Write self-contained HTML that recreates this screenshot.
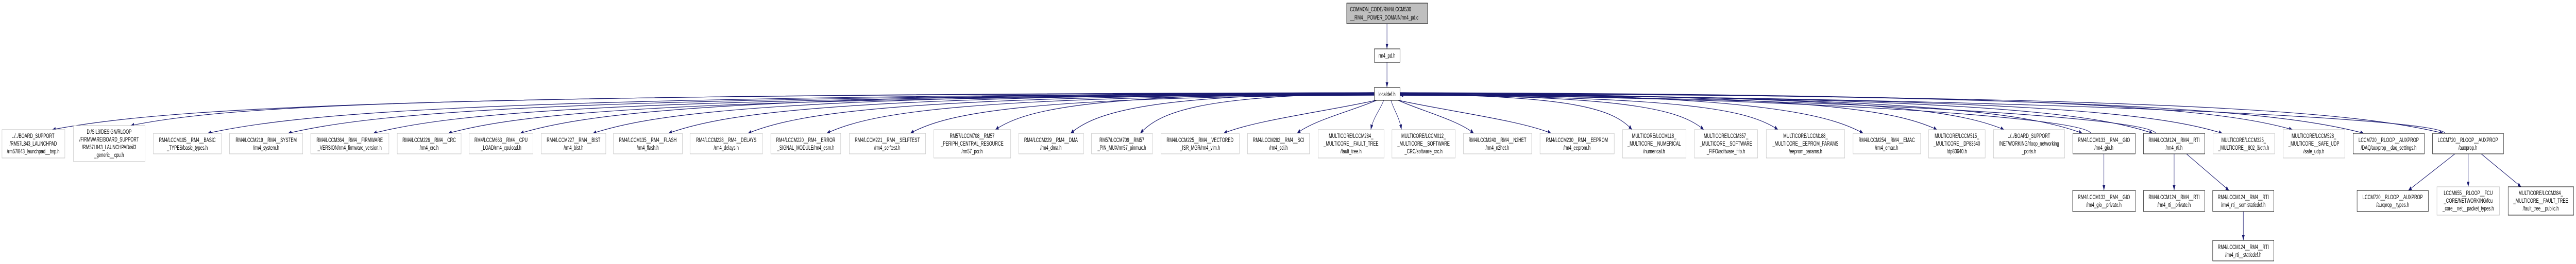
<!DOCTYPE html>
<html><head><meta charset="utf-8">
<style>
html,body{margin:0;padding:0;background:#fff;width:100%;height:100%;overflow:hidden;}
svg{display:block;width:100vw;height:100vh;}
text{font-family:"Liberation Sans",Arial,sans-serif;font-size:12px;fill:#000;}
.g{fill:#fff;stroke:#bfbfbf;stroke-width:1;}
.b{fill:#fff;stroke:#000;stroke-width:1;}
.e{fill:none;stroke:#191970;stroke-width:1.2;}
</style></head>
<body>
<svg id="s" viewBox="0 0 7743 513" preserveAspectRatio="none" xmlns="http://www.w3.org/2000/svg">
<defs><marker id="m" markerUnits="userSpaceOnUse" markerWidth="12" markerHeight="9" refX="10" refY="4" orient="auto"><path d="M0,0 L10,4 L0,8 z" fill="#191970"/></marker></defs>
<g id="edges"></g>
<rect x="4048" y="6" width="243" height="40" fill="#bfbfbf" stroke="#000"/>
<text x="4058" y="22">COMMON_CODE/RM4/LCCM530</text>
<text x="4058" y="38">__RM4__POWER_DOMAIN/rm4_pd.c</text>
<rect class="b" x="4131" y="95" width="77" height="26"/><text x="4169" y="112" text-anchor="middle">rm4_pd.h</text>
<rect class="b" x="4131" y="170" width="77" height="25"/><text x="4169" y="187" text-anchor="middle">localdef.h</text>

<g text-anchor="middle">
<rect class="g" x="6" y="252" width="189" height="55"/><text x="100" y="268">../../BOARD_SUPPORT</text><text x="100" y="283">/RM57L843_LAUNCHPAD</text><text x="100" y="298">/rm57l843_launchpad__bsp.h</text>
<rect class="g" x="221" y="244" width="215" height="70"/><text x="328" y="260">D:/SIL3/DESIGN/RLOOP</text><text x="328" y="275">/FIRMWARE/BOARD_SUPPORT</text><text x="328" y="290">/RM57L843_LAUNCHPAD/sil3</text><text x="328" y="305">_generic__cpu.h</text>
<rect class="g" x="461" y="259" width="204" height="40"/><text x="563" y="276">RM4/LCCM105__RM4__BASIC</text><text x="563" y="291">_TYPES/basic_types.h</text>
<rect class="g" x="690" y="259" width="220" height="40"/><text x="800" y="276">RM4/LCCM219__RM4__SYSTEM</text><text x="800" y="291">/rm4_system.h</text>
<rect class="g" x="934" y="259" width="235" height="40"/><text x="1051" y="276">RM4/LCCM364__RM4__FIRMWARE</text><text x="1051" y="291">_VERSION/rm4_firmware_version.h</text>
<rect class="g" x="1194" y="259" width="192" height="40"/><text x="1290" y="276">RM4/LCCM226__RM4__CRC</text><text x="1290" y="291">/rm4_crc.h</text>
<rect class="g" x="1410" y="259" width="192" height="40"/><text x="1506" y="276">RM4/LCCM663__RM4__CPU</text><text x="1506" y="291">_LOAD/rm4_cpuload.h</text>
<rect class="g" x="1627" y="259" width="194" height="40"/><text x="1724" y="276">RM4/LCCM227__RM4__BIST</text><text x="1724" y="291">/rm4_bist.h</text>
<rect class="g" x="1844" y="259" width="207" height="40"/><text x="1947" y="276">RM4/LCCM135__RM4__FLASH</text><text x="1947" y="291">/rm4_flash.h</text>
<rect class="g" x="2074" y="259" width="218" height="40"/><text x="2183" y="276">RM4/LCCM228__RM4__DELAYS</text><text x="2183" y="291">/rm4_delays.h</text>
<rect class="g" x="2317" y="259" width="210" height="40"/><text x="2422" y="276">RM4/LCCM220__RM4__ERROR</text><text x="2422" y="291">_SIGNAL_MODULE/rm4_esm.h</text>
<rect class="g" x="2553" y="259" width="229" height="40"/><text x="2667" y="276">RM4/LCCM221__RM4__SELFTEST</text><text x="2667" y="291">/rm4_selftest.h</text>
<rect class="g" x="2807" y="252" width="231" height="55"/><text x="2922" y="268">RM57/LCCM708__RM57</text><text x="2922" y="283">_PERIPH_CENTRAL_RESOURCE</text><text x="2922" y="298">/rm57_pcr.h</text>
<rect class="g" x="3062" y="259" width="195" height="40"/><text x="3159" y="276">RM4/LCCM229__RM4__DMA</text><text x="3159" y="291">/rm4_dma.h</text>
<rect class="g" x="3281" y="259" width="183" height="40"/><text x="3372" y="276">RM57/LCCM709__RM57</text><text x="3372" y="291">_PIN_MUX/rm57_pinmux.h</text>
<rect class="g" x="3490" y="259" width="235" height="40"/><text x="3607" y="276">RM4/LCCM225__RM4__VECTORED</text><text x="3607" y="291">_ISR_MGR/rm4_vim.h</text>
<rect class="g" x="3750" y="259" width="186" height="40"/><text x="3843" y="276">RM4/LCCM282__RM4__SCI</text><text x="3843" y="291">/rm4_sci.h</text>
<rect class="g" x="3962" y="252" width="198" height="55"/><text x="4061" y="268">MULTICORE/LCCM284_</text><text x="4061" y="283">_MULTICORE__FAULT_TREE</text><text x="4061" y="298">/fault_tree.h</text>
<rect class="g" x="4184" y="252" width="190" height="55"/><text x="4279" y="268">MULTICORE/LCCM012_</text><text x="4279" y="283">_MULTICORE__SOFTWARE</text><text x="4279" y="298">_CRC/software_crc.h</text>
<rect class="g" x="4399" y="259" width="205" height="40"/><text x="4501" y="276">RM4/LCCM240__RM4__N2HET</text><text x="4501" y="291">/rm4_n2het.h</text>
<rect class="g" x="4629" y="259" width="223" height="40"/><text x="4740" y="276">RM4/LCCM230__RM4__EEPROM</text><text x="4740" y="291">/rm4_eeprom.h</text>
<rect class="g" x="4877" y="252" width="191" height="55"/><text x="4972" y="268">MULTICORE/LCCM118_</text><text x="4972" y="283">_MULTICORE__NUMERICAL</text><text x="4972" y="298">/numerical.h</text>
<rect class="g" x="5093" y="252" width="190" height="55"/><text x="5188" y="268">MULTICORE/LCCM357_</text><text x="5188" y="283">_MULTICORE__SOFTWARE</text><text x="5188" y="298">_FIFO/software_fifo.h</text>
<rect class="g" x="5309" y="252" width="236" height="55"/><text x="5427" y="268">MULTICORE/LCCM188_</text><text x="5427" y="283">_MULTICORE__EEPROM_PARAMS</text><text x="5427" y="298">/eeprom_params.h</text>
<rect class="g" x="5570" y="259" width="203" height="40"/><text x="5671" y="276">RM4/LCCM254__RM4__EMAC</text><text x="5671" y="291">/rm4_emac.h</text>
<rect class="g" x="5797" y="252" width="170" height="55"/><text x="5882" y="268">MULTICORE/LCCM515_</text><text x="5882" y="283">_MULTICORE__DP83640</text><text x="5882" y="298">/dp83640.h</text>
<rect class="g" x="5992" y="252" width="214" height="55"/><text x="6099" y="268">../../BOARD_SUPPORT</text><text x="6099" y="283">/NETWORKING/rloop_networking</text><text x="6099" y="298">_ports.h</text>
<rect class="b" x="6231" y="259" width="187" height="40"/><text x="6324" y="276">RM4/LCCM133__RM4__GIO</text><text x="6324" y="291">/rm4_gio.h</text>
<rect class="b" x="6443" y="259" width="184" height="40"/><text x="6535" y="276">RM4/LCCM124__RM4__RTI</text><text x="6535" y="291">/rm4_rti.h</text>
<rect class="g" x="6652" y="259" width="185" height="40"/><text x="6744" y="276">MULTICORE/LCCM325_</text><text x="6744" y="291">_MULTICORE__802_3/eth.h</text>
<rect class="g" x="6863" y="252" width="185" height="55"/><text x="6955" y="268">MULTICORE/LCCM528_</text><text x="6955" y="283">_MULTICORE__SAFE_UDP</text><text x="6955" y="298">/safe_udp.h</text>
<rect class="b" x="7073" y="259" width="214" height="40"/><text x="7180" y="276">LCCM720__RLOOP__AUXPROP</text><text x="7180" y="291">/DAQ/auxprop__daq_settings.h</text>
<rect class="b" x="7312" y="259" width="213" height="40"/><text x="7418" y="276">LCCM720__RLOOP__AUXPROP</text><text x="7418" y="291">/auxprop.h</text>

<rect class="b" x="6230" y="370" width="189" height="41"/><text x="6324" y="387">RM4/LCCM133__RM4__GIO</text><text x="6324" y="402">/rm4_gio__private.h</text>
<rect class="b" x="6443" y="370" width="184" height="41"/><text x="6535" y="387">RM4/LCCM124__RM4__RTI</text><text x="6535" y="402">/rm4_rti__private.h</text>
<rect class="b" x="6651" y="370" width="184" height="41"/><text x="6743" y="387">RM4/LCCM124__RM4__RTI</text><text x="6743" y="402">/rm4_rti__semistaticdef.h</text>
<rect class="b" x="7085" y="370" width="214" height="41"/><text x="7192" y="387">LCCM720__RLOOP__AUXPROP</text><text x="7192" y="402">/auxprop__types.h</text>
<rect class="g" x="7325" y="363" width="188" height="55"/><text x="7419" y="379">LCCM655__RLOOP__FCU</text><text x="7419" y="394">_CORE/NETWORKING/fcu</text><text x="7419" y="409">_core__net__packet_types.h</text>
<rect class="b" x="7539" y="363" width="197" height="55"/><text x="7637" y="379">MULTICORE/LCCM284_</text><text x="7637" y="394">_MULTICORE__FAULT_TREE</text><text x="7637" y="409">/fault_tree__public.h</text>
<rect class="b" x="6651" y="467" width="184" height="40"/><text x="6743" y="484">RM4/LCCM124__RM4__RTI</text><text x="6743" y="499">/rm4_rti__staticdef.h</text>
</g>
</svg>
<script>
(function(){
var N=[[6,252,189],[221,244,215],[461,259,204],[690,259,220],[934,259,235],[1194,259,192],[1410,259,192],[1627,259,194],[1844,259,207],[2074,259,218],[2317,259,210],[2553,259,229],[2807,252,231],[3062,259,195],[3281,259,183],[3490,259,235],[3750,259,186],[3962,252,198],[4184,252,190],[4399,259,205],[4629,259,223],[4877,252,191],[5093,252,190],[5309,252,236],[5570,259,203],[5797,252,170],[5992,252,214],[6231,259,187],[6443,259,184],[6652,259,185],[6863,252,185],[7073,259,214],[7312,259,213]];
var g=document.getElementById('edges'),d=[];
function P(s){d.push(s);}
P('M4169,46 L4169,95');P('M4169,121 L4169,170');
N.forEach(function(n,i){
 var x=n[0],ty=n[1],w=n[2],c=x+w/2,left=c<4170;
 var ex=left?x+0.8*w:x+0.15*w;
 var sx,sy;
 if(Math.abs(c-4170)<700){sx=4170+Math.max(-35,Math.min(35,(c-4170)/10));sy=195;
  P('M'+sx+','+sy+' C'+(sx+(ex-sx)*0.3)+','+(sy+20)+' '+(ex-(ex-sx)*0.2)+','+(ty-25)+' '+ex+','+ty);}
 else{sx=left?4131:4208;sy=180+(i%6);
  P('M'+sx+','+sy+' C'+(sx+(ex-sx)*0.75)+','+(sy+3)+' '+(ex+(sx-ex)*0.08)+','+(ty-40)+' '+ex+','+ty);}
});
[[6285,259],[6480,259],[7350,259]].forEach(function(p){
 P('M'+p[0]+','+p[1]+' C'+(p[0]-25)+',225 '+(4208+(p[0]-4208)*0.5)+',186 4208,185');});
P('M6324,299 L6324,370');P('M6535,299 L6535,370');
P('M6572,299 L6700,370');P('M6743,411 L6743,467');
P('M7379,299 L7239,370');P('M7419,299 L7419,363');P('M7458,299 L7578,363');
var ns='http://www.w3.org/2000/svg';
d.forEach(function(s){var p=document.createElementNS(ns,'path');p.setAttribute('d',s);p.setAttribute('class','e');p.setAttribute('marker-end','url(#m)');g.appendChild(p);});
})();
</script>
</body></html>
